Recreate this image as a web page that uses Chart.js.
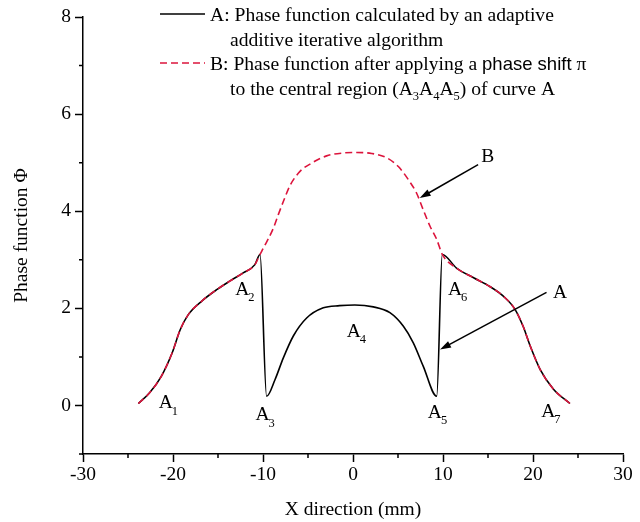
<!DOCTYPE html>
<html>
<head>
<meta charset="utf-8">
<script src="https://cdn.jsdelivr.net/npm/chart.js@4.4.0/dist/chart.umd.min.js"></script>
<style>
  html, body { margin: 0; padding: 0; background: #fff; }
  canvas { display: block; }
</style>
</head>
<body>
<canvas id="phaseChart" width="640" height="522"></canvas>
<script>
// curve A: phase function from the adaptive additive iterative algorithm
const xA = [-23.85, -22.6, -21.3, -20.1, -19.2, -18.3, -16.8, -15.1, -13.7, -12.2, -10.9, -10.33,
            -9.6, -8.67, -7.74, -6.63, -5.15, -3.3, -1.5, 0.2, 2.26, 4.1, 5.6, 6.7, 7.8, 9.3,
            9.92, 11.5, 13.4, 15.2, 16.7, 18.0, 18.9, 19.7, 20.8, 22.3, 24.1];
const phaseA = [0.04, 0.26, 0.6, 1.08, 1.56, 1.87, 2.15, 2.39, 2.56, 2.73, 2.9, 3.11,
                0.19, 0.53, 0.98, 1.43, 1.8, 2.01, 2.055, 2.07, 2.03, 1.91, 1.63, 1.29, 0.81, 0.19,
                3.11, 2.83, 2.63, 2.45, 2.25, 1.98, 1.63, 1.22, 0.74, 0.33, 0.04];

// curve B: after the phase shift of the central part
const xB = [-23.85, -22.6, -21.3, -20.1, -19.2, -18.3, -16.8, -15.1, -13.7, -12.2, -10.9, -10.33,
            -9.96, -8.85, -8.3, -7.74, -7.0, -5.89, -4.6, -2.93, -1.07, 0.41, 2.07, 3.74, 5.04,
            6.15, 7.07, 7.8, 8.56, 9.3, 9.92, 11.5, 13.4, 15.2, 16.7, 18.0, 18.9, 19.7, 20.8, 22.3, 24.1];
const phaseB = [0.04, 0.26, 0.6, 1.08, 1.56, 1.87, 2.15, 2.39, 2.56, 2.73, 2.9, 3.11,
                3.24, 3.65, 3.93, 4.2, 4.53, 4.82, 4.99, 5.14, 5.2, 5.21, 5.19, 5.1, 4.92,
                4.65, 4.37, 4.03, 3.69, 3.42, 3.11, 2.83, 2.63, 2.45, 2.25, 1.98, 1.63, 1.22, 0.74, 0.33, 0.04];

const xTicks = [-30, -20, -10, 0, 10, 20, 30];
const yTicks = [0, 2, 4, 6, 8];

// labels A1..A7 (data units)
const pointSubs = ['1', '2', '3', '4', '5', '6', '7'];
const pointX = [-20.8, -12.3, -10.06, 0.08, 9.1, 11.33, 21.7];
const pointY = [0.08, 2.41, -0.17, 1.55, -0.12, 2.41, -0.1];

// arrows: [label, labelX, labelY, fromX, fromY, toX, toY]
const arrows = [
  ['B', 14.97, 5.14, 13.9, 4.96, 7.41, 4.27],
  ['A', 23.0, 2.35, 21.5, 2.33, 9.67, 1.15]
];

const serif = '"Liberation Serif", "Times New Roman", serif';
const sans = '"Liberation Sans", Arial, sans-serif';
const red = '#dc143c';

function pairs(xs, ys) {
  return xs.map((x, i) => ({ x: x, y: ys[i] }));
}

function richText(ctx, x, y, parts) {
  parts.forEach(p => {
    ctx.font = p.font;
    ctx.fillText(p.t, x, y + (p.dy || 0));
    x += ctx.measureText(p.t).width;
  });
}

function arrowLine(ctx, x1, y1, x2, y2) {
  const ang = Math.atan2(y2 - y1, x2 - x1);
  const len = 11, half = 3.5;
  ctx.beginPath();
  ctx.moveTo(x1, y1);
  ctx.lineTo(x2 - Math.cos(ang) * len * 0.8, y2 - Math.sin(ang) * len * 0.8);
  ctx.stroke();
  ctx.beginPath();
  ctx.moveTo(x2, y2);
  ctx.lineTo(x2 - Math.cos(ang) * len - Math.sin(ang) * half, y2 - Math.sin(ang) * len + Math.cos(ang) * half);
  ctx.lineTo(x2 - Math.cos(ang) * len + Math.sin(ang) * half, y2 - Math.sin(ang) * len - Math.cos(ang) * half);
  ctx.closePath();
  ctx.fill();
}

const decor = {
  id: 'decor',
  afterDraw(chart) {
    const ctx = chart.ctx;
    const x = chart.scales.x, y = chart.scales.y;
    ctx.save();
    ctx.strokeStyle = '#000';
    ctx.fillStyle = '#000';
    ctx.lineWidth = 1.5;

    // minor ticks
    ctx.beginPath();
    x.ticks.forEach(t => {
      if (xTicks.includes(t.value)) return;
      const px = x.getPixelForValue(t.value);
      ctx.moveTo(px, x.top);
      ctx.lineTo(px, x.top + 4);
    });
    y.ticks.forEach(t => {
      if (yTicks.includes(t.value)) return;
      const py = y.getPixelForValue(t.value);
      ctx.moveTo(y.right, py);
      ctx.lineTo(y.right - 4, py);
    });
    ctx.stroke();

    // point labels
    ctx.textBaseline = 'alphabetic';
    ctx.textAlign = 'left';
    pointSubs.forEach((s, i) => {
      const px = x.getPixelForValue(pointX[i]);
      const py = y.getPixelForValue(pointY[i]);
      ctx.font = '19.5px ' + serif;
      const w = ctx.measureText('A').width;
      ctx.fillText('A', px - w / 2, py + 6.5);
      ctx.font = '12.5px ' + serif;
      ctx.fillText(s, px + w / 2 - 1, py + 13);
    });

    // arrows
    arrows.forEach(a => {
      ctx.font = '19.5px ' + serif;
      ctx.textAlign = 'center';
      ctx.fillText(a[0], x.getPixelForValue(a[1]), y.getPixelForValue(a[2]) + 6.5);
      arrowLine(ctx, x.getPixelForValue(a[3]), y.getPixelForValue(a[4]),
                x.getPixelForValue(a[5]), y.getPixelForValue(a[6]));
    });

    // legend
    ctx.textAlign = 'left';
    ctx.beginPath();
    ctx.moveTo(160, 14);
    ctx.lineTo(205, 14);
    ctx.stroke();
    ctx.strokeStyle = red;
    ctx.setLineDash([7, 4]);
    ctx.beginPath();
    ctx.moveTo(160, 63);
    ctx.lineTo(205, 63);
    ctx.stroke();
    ctx.setLineDash([]);

    const fMain = '19.6px ' + serif, fSub = '12.5px ' + serif;
    ctx.font = fMain;
    ctx.fillText('A: Phase function calculated by an adaptive', 210, 21);
    ctx.fillText('additive iterative algorithm', 230, 45.5);
    richText(ctx, 210, 70, [
      { t: 'B: Phase function after applying a ', font: fMain },
      { t: 'phase shift', font: '18.5px ' + sans },
      { t: ' \u03c0', font: fMain }
    ]);
    richText(ctx, 230, 95, [
      { t: 'to the central region (A', font: fMain },
      { t: '3', font: fSub, dy: 5 },
      { t: 'A', font: fMain },
      { t: '4', font: fSub, dy: 5 },
      { t: 'A', font: fMain },
      { t: '5', font: fSub, dy: 5 },
      { t: ') of curve A', font: fMain }
    ]);
    ctx.restore();
  }
};

Chart.defaults.font.family = serif;
Chart.defaults.color = '#000';

new Chart(document.getElementById('phaseChart'), {
  type: 'line',
  data: {
    datasets: [
      {
        label: 'B',
        data: pairs(xB, phaseB),
        borderColor: red,
        borderWidth: 1.6,
        borderDash: [7, 4],
        pointRadius: 0,
        cubicInterpolationMode: 'monotone',
        fill: false
      },
      {
        label: 'A',
        data: pairs(xA, phaseA),
        borderColor: '#000',
        borderWidth: 1.6,
        pointRadius: 0,
        cubicInterpolationMode: 'monotone',
        fill: false
      }
    ]
  },
  options: {
    responsive: false,
    animation: false,
    layout: { padding: { top: 17, right: 17, left: 0, bottom: 0 } },
    plugins: {
      legend: { display: false },
      tooltip: { enabled: false }
    },
    scales: {
      x: {
        type: 'linear',
        min: -30,
        max: 30,
        ticks: {
          stepSize: 5,
          autoSkip: false,
          maxRotation: 0,
          padding: 1,
          font: { size: 19.5 },
          callback: v => xTicks.includes(v) ? String(v) : ''
        },
        grid: {
          drawOnChartArea: false,
          tickLength: 8,
          tickWidth: 1.5,
          tickColor: c => (c.tick && xTicks.includes(c.tick.value)) ? '#000' : 'rgba(0,0,0,0)'
        },
        border: { display: true, color: '#000', width: 1.5 },
        title: {
          display: true,
          text: 'X direction (mm)',
          font: { size: 19.5 },
          padding: { top: 0, bottom: 0 }
        },
        afterFit: s => { s.height = 68; }
      },
      y: {
        type: 'linear',
        min: -1,
        max: 8,
        ticks: {
          stepSize: 1,
          autoSkip: false,
          padding: 4,
          font: { size: 19.5 },
          callback: v => yTicks.includes(v) ? String(v) : ''
        },
        grid: {
          drawOnChartArea: false,
          tickLength: 8,
          tickWidth: 1.5,
          tickColor: c => (c.tick && yTicks.includes(c.tick.value)) ? '#000' : 'rgba(0,0,0,0)'
        },
        border: { display: true, color: '#000', width: 1.5 },
        title: {
          display: true,
          text: 'Phase function \u03a6',
          font: { size: 19.5 },
          padding: { top: 10.5, bottom: 0 }
        },
        afterFit: s => { s.width = 83; }
      }
    }
  },
  plugins: [decor]
});
</script>
</body>
</html>
